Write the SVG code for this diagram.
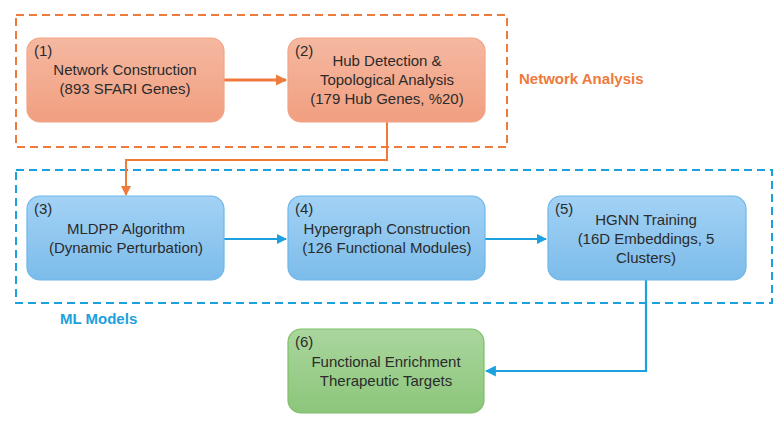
<svg xmlns="http://www.w3.org/2000/svg" width="783" height="424" viewBox="0 0 783 424">
<defs>
<linearGradient id="gO" x1="0" y1="0" x2="0" y2="1"><stop offset="0" stop-color="#F5B8A1"/><stop offset="1" stop-color="#F19F80"/></linearGradient>
<linearGradient id="gB" x1="0" y1="0" x2="0" y2="1"><stop offset="0" stop-color="#A3D2F5"/><stop offset="1" stop-color="#7CBCEA"/></linearGradient>
<linearGradient id="gG" x1="0" y1="0" x2="0" y2="1"><stop offset="0" stop-color="#AAD69D"/><stop offset="1" stop-color="#8CC67B"/></linearGradient>
<marker id="aO" viewBox="0 0 10 10" refX="9" refY="5" markerWidth="3.6" markerHeight="3.6" orient="auto"><path d="M0,0 L10,5 L0,10 z" fill="#EE7A3C"/></marker>
<marker id="aO2" viewBox="0 0 10 10" refX="9" refY="5" markerWidth="5" markerHeight="5" orient="auto"><path d="M0,0 L10,5 L0,10 z" fill="#EE7A3C"/></marker>
<marker id="aB" viewBox="0 0 10 10" refX="9" refY="5" markerWidth="5" markerHeight="5" orient="auto"><path d="M0,0 L10,5 L0,10 z" fill="#1DA1DE"/></marker>
</defs>
<style>
.box{stroke-width:1.2}
.o{fill:url(#gO);stroke:#F2A486}
.b{fill:url(#gB);stroke:#6DB6E8}
.g{fill:url(#gG);stroke:#7DBF6A}
text{font-family:"Liberation Sans","Open Sans",sans-serif;font-size:15px;fill:#2B2B2B}
.c{text-anchor:middle}
.grpO{fill:none;stroke:#EE7A3C;stroke-width:2;stroke-dasharray:8 5}
.grpB{fill:none;stroke:#1DA1DE;stroke-width:2;stroke-dasharray:8 5}
.lbl{font-weight:bold;font-size:15px}
</style>
<g id="groups">
<rect class="grpO" x="16" y="15" width="491" height="132"/>
<text class="lbl" x="519" y="84" style="fill:#EE7A3C">Network Analysis</text>
<rect class="grpB" x="16" y="170" width="756" height="133"/>
<text class="lbl" x="60" y="324" style="fill:#1DA1DE">ML Models</text>
</g>
<g id="connectors" fill="none">
<path d="M224,80 H286" stroke="#EE7A3C" stroke-width="3.2" marker-end="url(#aO)"/>
<path d="M387,122 V160 H126 V195" stroke="#EE7A3C" stroke-width="2" marker-end="url(#aO2)"/>
<path d="M224,239 H286" stroke="#1DA1DE" stroke-width="2" marker-end="url(#aB)"/>
<path d="M485,239 H546" stroke="#1DA1DE" stroke-width="2" marker-end="url(#aB)"/>
<path d="M646,280 V371 H486" stroke="#1DA1DE" stroke-width="2.2" marker-end="url(#aB)"/>
</g>
<g id="n1">
<rect class="box o" x="27" y="38" width="197" height="84" rx="13"/>
<text x="34" y="56">(1)</text>
<text class="c" x="125" y="75">Network Construction</text>
<text class="c" x="125" y="94">(893 SFARI Genes)</text>
</g>
<g id="n2">
<rect class="box o" x="288" y="38" width="197" height="84" rx="13"/>
<text x="295" y="56">(2)</text>
<text class="c" x="387" y="66">Hub Detection &amp;</text>
<text class="c" x="387" y="85">Topological Analysis</text>
<text class="c" x="387" y="104">(179 Hub Genes, %20)</text>
</g>
<g id="n3">
<rect class="box b" x="27" y="196" width="197" height="84" rx="13"/>
<text x="34" y="214">(3)</text>
<text class="c" x="126" y="234">MLDPP Algorithm</text>
<text class="c" x="126" y="253">(Dynamic Perturbation)</text>
</g>
<g id="n4">
<rect class="box b" x="288" y="196" width="197" height="84" rx="13"/>
<text x="295" y="214">(4)</text>
<text class="c" x="387" y="234">Hypergraph Construction</text>
<text class="c" x="387" y="253">(126 Functional Modules)</text>
</g>
<g id="n5">
<rect class="box b" x="548" y="196" width="198" height="84" rx="13"/>
<text x="555" y="214">(5)</text>
<text class="c" x="646" y="225">HGNN Training</text>
<text class="c" x="646" y="244">(16D Embeddings, 5</text>
<text class="c" x="646" y="263">Clusters)</text>
</g>
<g id="n6">
<rect class="box g" x="288" y="329" width="196" height="84" rx="13"/>
<text x="295" y="347">(6)</text>
<text class="c" x="386" y="367">Functional Enrichment</text>
<text class="c" x="386" y="386">Therapeutic Targets</text>
</g>
</svg>
